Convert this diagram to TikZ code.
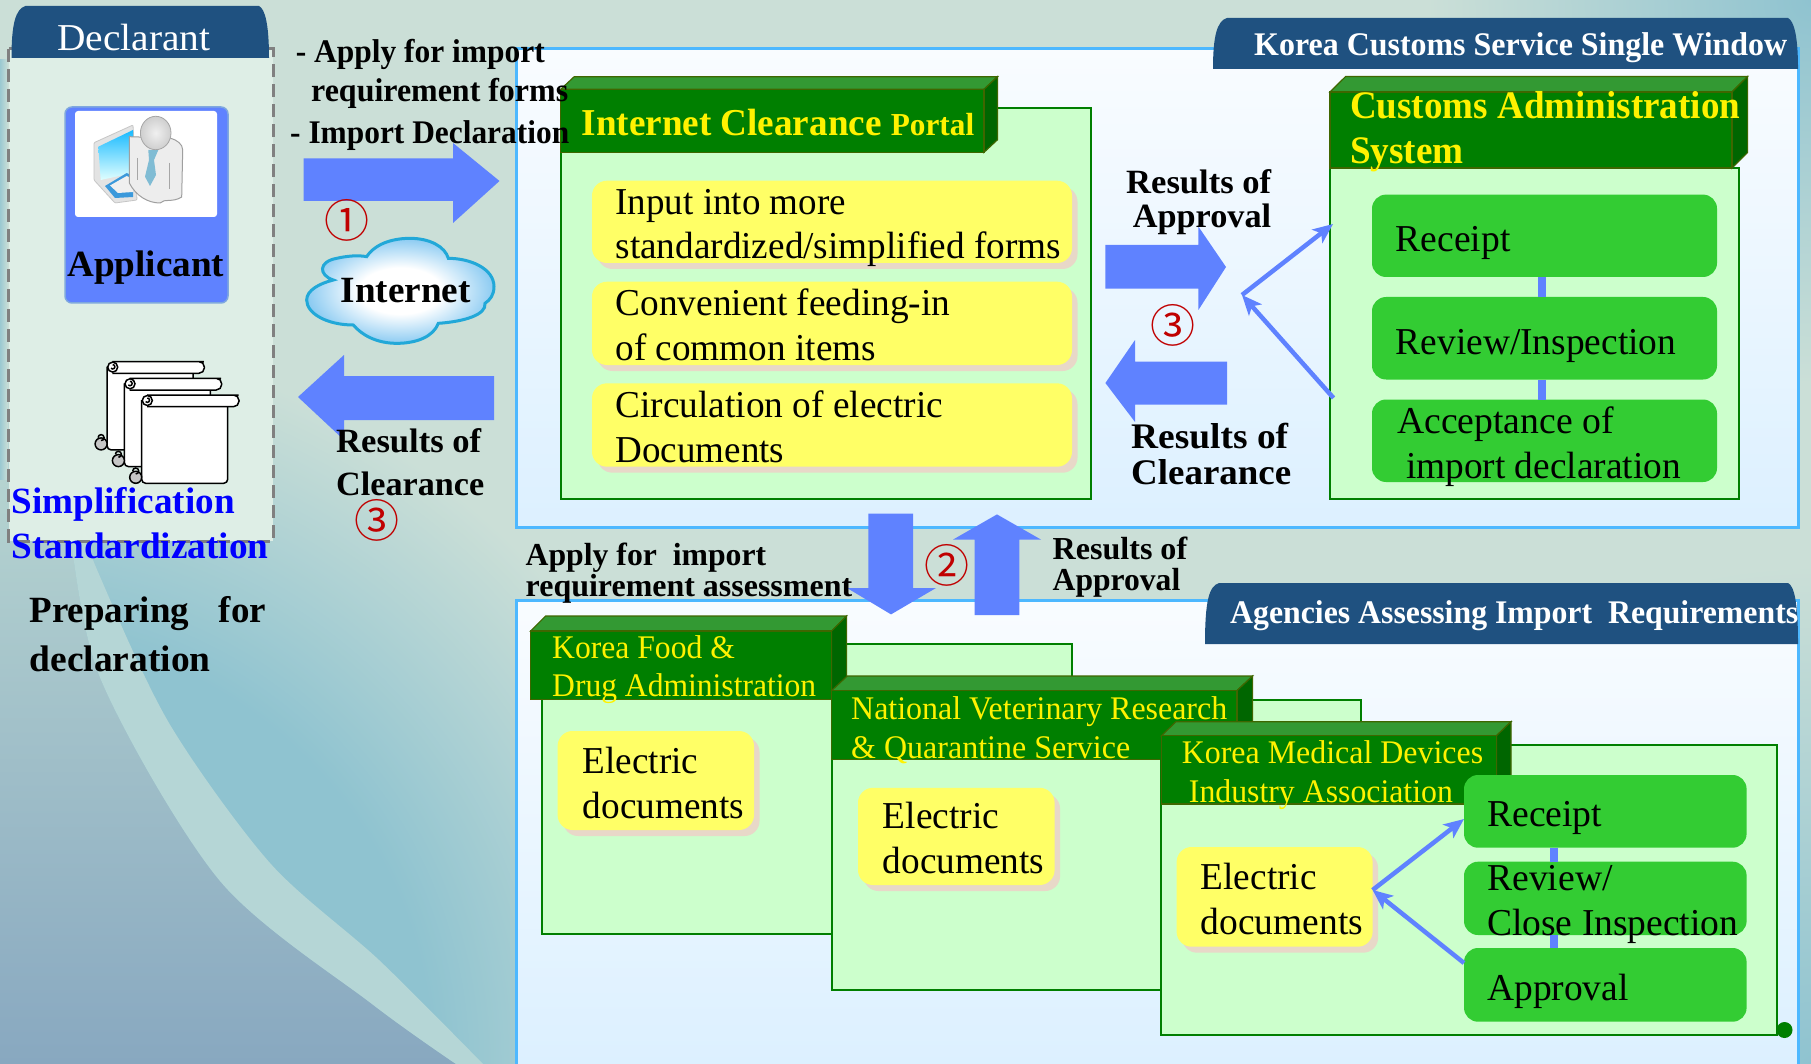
\documentclass[tikz,border=0pt]{standalone}
\usepackage{fontspec}
\usepackage{graphicx}
\setmainfont{Liberation Serif}
\newfontfamily\cnum{Noto Sans CJK SC}
\usetikzlibrary{arrows.meta,shadows}
\definecolor{bgbase}{HTML}{CBDFD7}
\definecolor{bgteal}{HTML}{8FC3D0}
\definecolor{bgband}{HTML}{B5D6D6}
\definecolor{bglow}{HTML}{88A8C0}
\definecolor{bglow2}{HTML}{B5D3D0}
\definecolor{tabblue}{HTML}{1F5180}
\definecolor{arrowblue}{HTML}{5F82FF}
\definecolor{panelline}{HTML}{4DB8FF}
\definecolor{paneltop}{HTML}{F9FCFF}
\definecolor{panelbot}{HTML}{DCF0FF}
\definecolor{dgreen}{HTML}{007F00}
\definecolor{tgreen}{HTML}{339933}
\definecolor{sgreen}{HTML}{006600}
\definecolor{oline}{HTML}{3F6600}
\definecolor{lgreen}{HTML}{CCFFCC}
\definecolor{mgreen}{HTML}{33CC33}
\definecolor{yell}{HTML}{FFFF66}
\definecolor{shad}{HTML}{E8D8C8}
\definecolor{nred}{HTML}{C00000}
\definecolor{cloudin}{HTML}{8CCBF2}
\definecolor{cloudline}{HTML}{22A8D8}
\definecolor{dashfill}{HTML}{DEEEE6}
\pgfdeclareradialshading{cloudsh}{\pgfpoint{0bp}{0bp}}{color(0bp)=(white);color(11bp)=(white);color(25bp)=(cloudin);color(50bp)=(cloudin)}
\pgfdeclareradialshading{tealsh}{\pgfpoint{0bp}{0bp}}{color(0bp)=(bgteal);color(13bp)=(bgteal);color(22bp)=(bgbase);color(50bp)=(bgbase)}
\pgfdeclareradialshading{cornersh}{\pgfpoint{0bp}{0bp}}{color(0bp)=(bgteal);color(24bp)=(bgbase);color(50bp)=(bgbase)}
\newcommand\fs[1]{\fontsize{#1}{#1}\selectfont}
\newcommand\W[2]{\setbox0=\hbox{#2}\pgfmathsetmacro\rr{#1/\wd0}\scalebox{\rr}[1]{\box0}}
\newcommand\twol[5]{\vtop{\baselineskip=#1pt\lineskiplimit=-1000pt\hbox{\W{#2}{#3}}\hbox{\W{#4}{#5}}}}
\newcommand\hdr[7]{% x0 ytop x1 yf yb dx name
  \fill[tgreen,draw=oline,line width=1.2pt] (#1,#4) -- (#1+#6,#2) -- (#3+#6,#2) -- (#3,#4) -- cycle;
  \fill[sgreen,draw=oline,line width=1.2pt] (#3,#4) -- (#3+#6,#2) -- (#3+#6,#5-#4+#2) -- (#3,#5) -- cycle;
  \node[hdrbox,minimum width=#3pt-#1pt,minimum height=#5pt-#4pt] (#7) at (#1,#4) {};
}
\newcommand\tabshape[5]{% x0 yt x1 yb name
  \fill[tabblue] (#1,#4) .. controls (#1,#2+18) and (#1+4,#2+3) .. (#1+14,#2) -- (#3-10,#2) .. controls (#3-4,#2+3) and (#3,#2+18) .. (#3,#4) -- cycle;
  \coordinate (#5) at (#1,#2);
}
\newcommand\scrollat[2]{%
  \begin{scope}[shift={(#1,#2)}]
    \draw[scr,fill=white,rounded corners=4pt] (141.7,400) -- (141.7,483.3) -- (227.7,483.3) -- (227.7,400);
    \draw[scr,fill=white,rounded corners=5.5pt] (147,395) -- (233,395) -- (239,395) -- (239,406.7) -- (147,406.7);
    \draw[scr,fill=white] (147.3,400.5) circle (5);
    \draw[scr] (147.3,398) arc (-90:140:2.2);
    \draw[scr,fill=gray!45] (135.7,477.3) circle (6);
    \draw[scr] (135.7,474) arc (90:-180:3);
  \end{scope}%
}
\tikzset{
  x=1pt,y=-1pt,
  hdrbox/.style={fill=dgreen,draw=oline,line width=1.2pt,inner sep=0pt,outer sep=0pt,anchor=north west},
  greenpanel/.style={fill=lgreen,draw=dgreen,line width=2pt,inner sep=0pt,outer sep=0pt,anchor=north west},
  yellowbox/.style={fill=yell,rounded corners=15pt,inner sep=0pt,outer sep=0pt,anchor=north west,drop shadow={shadow xshift=5.5pt,shadow yshift=-6pt,fill=shad,opacity=1}},
  greenbox/.style={fill=mgreen,rounded corners=14pt,inner sep=0pt,outer sep=0pt,anchor=north west},
  bigarrow/.style={fill=arrowblue,draw=none},
  thinarrow/.style={draw=arrowblue,line width=4.5pt,-{Stealth[length=20pt,width=17pt,inset=5pt]}},
  tie/.style={draw=arrowblue,line width=8pt},
  scr/.style={draw=black,line width=1.5pt},
  txt/.style={inner sep=0pt,anchor=base west},
  circnum/.style={inner sep=0pt,text=nred,font=\cnum\fs{45}},
}
\begin{document}
\begin{tikzpicture}
\useasboundingbox (0,0) rectangle (1811,1064);
\begin{scope}
\clip (0,0) rectangle (1811,1064);
% background
\fill[bgbase] (0,0) rectangle (1811,1064);
\path[shading=tealsh] (0,1064) circle (830);
\path[shading=cornersh] (1811,0) circle (400);
\path[shading=cornersh] (1811,1064) circle (520);
\shade[left color=bgteal!80!bgbase,right color=bgbase] (0,60) rectangle (8,500);
\shade[top color=bglow2,bottom color=bglow] (0,480) -- plot[smooth] coordinates {(60,480) (68,522) (101,680) (220,881) (372,1004) (456,1064)} -- (0,1064) -- cycle;
\fill[bgband] plot[smooth] coordinates {(62,490) (68,522) (101,680) (220,881) (372,1004) (456,1064)} -- plot[smooth] coordinates {(483,1064) (379,960) (270,863) (169,723) (98,572) (72,500)} -- cycle;
\end{scope}
% panels
\shade[top color=paneltop,bottom color=panelbot,draw=panelline,line width=3pt] (516.6,49) rectangle (1798,527.5);
\shade[top color=paneltop,bottom color=panelbot] (516.6,600.7) rectangle (1798,1064);
\draw[panelline,line width=3pt] (516.6,1064) -- (516.6,600.7) -- (1798,600.7) -- (1798,1064);
\tabshape{1213}{18}{1798}{69}{tabA}
\tabshape{1205}{583}{1798}{644}{tabB}
% declarant panel
\draw[fill=dashfill,draw=gray,line width=3pt,dash pattern=on 13pt off 7pt] (8.5,49) rectangle (273,541);
\tabshape{11.5}{6}{269}{58}{tabD}
% applicant
\node[fill=arrowblue,draw=cyan!30!arrowblue!70!white,line width=1.5pt,rounded corners=7pt,inner sep=0pt,outer sep=0pt,anchor=north west,minimum width=163pt,minimum height=196pt] (applicantbox) at (65,107) {};
\node[fill=white,rounded corners=3pt,inner sep=0pt,outer sep=0pt,anchor=north west,minimum width=142pt,minimum height=106pt] (iconbox) at (75,111) {};
\fill[gray!22,draw=gray!45,line width=.8pt,rounded corners=1pt] (94,142.7) -- (133,125) -- (137,200) -- (115,203) -- (94,180) -- cycle;
\shade[top color=cyan!70!blue!90,bottom color=cyan!12!white] (98.3,146.7) -- (133,130) -- (133,173) -- (100.7,180) -- cycle;
\fill[cyan!70!blue!80] (105,186) -- (126.7,173) -- (133,176) -- (133,197) -- (115,198) -- cycle;
\fill[gray!12] (110,185.5) -- (126.7,176) -- (133,179) -- (133,192) -- (118,193) -- cycle;
\draw[gray!75,line width=1pt,fill=gray!14] (129.3,136.7) -- (170,138) .. controls (177,140) and (182.7,144) .. (182.7,150) -- (181.7,197) .. controls (172,203) and (165,198) .. (160,203) .. controls (148,203) and (136,196) .. (129.3,183) -- cycle;
\fill[cyan!55!gray!75!white] (148.3,150) -- (158.3,150) -- (154,160) -- (156,175) -- (150,186) -- (145,176.7) -- (149,160) -- cycle;
\draw[gray!70,line width=1pt] (137.7,158) -- (137.7,180) (169,163) -- (169,189);
\shade[inner color=gray!12,outer color=gray!38,draw=gray!70,line width=.8pt] (155.7,133) ellipse (15.3 and 16.7);
% scrolls
\scrollat{-34.6}{-33.4}
\scrollat{-17.3}{-16.7}
\scrollat{0}{0}
% big arrows
\fill[bigarrow] (303.5,158.5) -- (453,158.5) -- (453,143) -- (499.5,181) -- (453,223) -- (453,201) -- (303.5,201) -- cycle;
\fill[bigarrow] (494,376) -- (344,376) -- (344,355) -- (298,397) -- (344,440) -- (344,420) -- (494,420) -- cycle;
% cloud
\begin{scope}[shift={(290,220)},x=.33333pt,y=-.33333pt]
\path[shading=cloudsh,draw=cloudline,line width=3pt] (130,180) .. controls (85,165) and (85,125) .. (140,115) .. controls (170,108) and (205,105) .. (230,110) .. controls (260,65) and (320,55) .. (360,55) .. controls (420,55) and (465,80) .. (475,115) .. controls (540,115) and (612,145) .. (612,200) .. controls (612,225) and (600,240) .. (585,250) .. controls (590,285) and (520,305) .. (445,310) .. controls (430,350) and (380,370) .. (320,370) .. controls (260,370) and (215,345) .. (190,315) .. controls (110,315) and (50,280) .. (50,240) .. controls (50,210) and (90,190) .. (130,180) -- cycle;
\end{scope}
% portal
\node[greenpanel,minimum width=530.3pt,minimum height=391.6pt] (portal) at (560.7,107.7) {};
\hdr{560.7}{76.7}{984}{89.3}{152.3}{13.5}{portalhdr}
\node[yellowbox,minimum width=480pt,minimum height=82.3pt] (p1) at (592,180.7) {};
\node[yellowbox,minimum width=480pt,minimum height=83.3pt] (p2) at (592,281.7) {};
\node[yellowbox,minimum width=480pt,minimum height=83.4pt] (p3) at (592,383.3) {};
% customs
\node[greenpanel,minimum width=408.5pt,minimum height=331pt] (custom) at (1330,168) {};
\hdr{1330}{76.5}{1732}{92}{168}{15.6}{customhdr}
\node[greenbox,minimum width=345pt,minimum height=82.4pt] (c1) at (1372,194.6) {};
\node[greenbox,minimum width=345pt,minimum height=82.5pt] (c2) at (1372,297) {};
\node[greenbox,minimum width=345pt,minimum height=82.5pt] (c3) at (1372,399.5) {};
\draw[tie] ([xshift=-3pt]c1.south) -- ([xshift=-3pt]c2.north);
\draw[tie] ([xshift=-3pt]c2.south) -- ([xshift=-3pt]c3.north);
% agencies
\node[greenpanel,minimum width=530.4pt,minimum height=290pt] (ag1) at (542,644) {};
\hdr{530.6}{616}{831.6}{631}{699.6}{15}{ag1hdr}
\node[yellowbox,minimum width=196.4pt,minimum height=99pt] (e1) at (557.6,731) {};
\node[greenpanel,minimum width=529.4pt,minimum height=290pt] (ag2) at (831.6,700) {};
\hdr{831.6}{676}{1237}{690.6}{759.7}{15.6}{ag2hdr}
\node[yellowbox,minimum width=196.6pt,minimum height=97.2pt] (e2) at (858,787.8) {};
\node[greenpanel,minimum width=615.6pt,minimum height=290pt] (ag3) at (1161.4,745) {};
\hdr{1161.4}{721.7}{1496.5}{735.7}{804}{14.5}{ag3hdr}
\node[yellowbox,minimum width=196pt,minimum height=99.7pt] (e3) at (1176.6,847) {};
\node[greenbox,minimum width=282.6pt,minimum height=72.7pt] (g1) at (1464,775) {};
\node[greenbox,minimum width=282.6pt,minimum height=73.3pt] (g2) at (1464,861.7) {};
\node[greenbox,minimum width=282.6pt,minimum height=73.7pt] (g3) at (1464,948) {};
\draw[tie] ([xshift=-51pt]g1.south) -- ([xshift=-51pt]g2.north);
\draw[tie] ([xshift=-51pt]g2.south) -- ([xshift=-51pt]g3.north);
\node[circle,fill=dgreen,inner sep=0pt,minimum size=16pt] (dot) at (1784.5,1030) {};
% mid arrows
\fill[bigarrow] (1105.4,245) -- (1198.4,245) -- (1198.4,226.6) -- (1226,267) -- (1198.4,310) -- (1198.4,288.6) -- (1105.4,288.6) -- cycle;
\fill[bigarrow] (1227,361.6) -- (1135,361.6) -- (1135,340) -- (1105.4,383) -- (1135,422) -- (1135,404.6) -- (1227,404.6) -- cycle;
\fill[bigarrow] (868.4,513.7) -- (913,513.7) -- (913,588) -- (936,588) -- (891,614.4) -- (847,588) -- (868.4,588) -- cycle;
\fill[bigarrow] (974.5,615) -- (1019.4,615) -- (1019.4,539.6) -- (1041,539.6) -- (997,514.4) -- (953,539.6) -- (974.5,539.6) -- cycle;
% thin arrows
\coordinate (jA) at (1242,295);
\coordinate (inA) at (1333,224);
\coordinate (outA) at (1333.5,398);
\coordinate (jB) at (1372.6,890);
\coordinate (inB) at (1464,819);
\coordinate (outB) at (1464,963);
\draw[thinarrow] (jA) -- (inA);
\draw[thinarrow] (outA) -- (jA);
\draw[thinarrow] (jB) -- (inB);
\draw[thinarrow] (outB) -- (jB);
% numbers
\node[circnum] (n1) at (347,220) {①};
\node[circnum] (n3a) at (377,520) {③};
\node[circnum] (n3b) at (1172.6,325) {③};
\node[circnum] (n2) at (947.4,565.5) {②};
% texts
\node[txt,text=white,font=\fs{38}] (tD) at (57,51) {\W{153}{Declarant}};
\node[txt,font=\bfseries\fs{37}] (tApp) at (67,277) {\W{157}{Applicant}};
\node[txt,text=blue,font=\bfseries\fs{37}] (tSS) at (11.5,513) {\twol{45}{223}{Simplification}{257}{Standardization}};
\node[txt,font=\bfseries\fs{37}] (tPrep) at (29.4,622) {\vtop{\baselineskip=49pt\lineskiplimit=-1000pt\hbox to 236.6pt{Preparing\hfill for}\hbox{\W{181}{declaration}}}};
\node[txt,font=\bfseries\fs{33}] (tA1) at (295.6,62.5) {\W{249}{- Apply for import}};
\node[txt,font=\bfseries\fs{33}] (tA2) at (311,101.5) {\W{257}{requirement forms}};
\node[txt,font=\bfseries\fs{33}] (tA3) at (290,144) {\W{279}{- Import Declaration}};
\node[txt,font=\bfseries\fs{34}] (tRC1) at (336,452.5) {\twol{42.5}{145}{Results of}{148}{Clearance}};
\node[txt,font=\bfseries\fs{37}] (tNet) at (340.6,302.7) {\W{130}{Internet}};
\node[txt,text=yellow,font=\bfseries\fs{38}] (tPortal) at (581.4,136) {\W{392.6}{Internet Clearance {\fs{32}Portal}}};
\node[txt,font=\fs{38}] (tp1) at (615.4,215) {\twol{44}{230.3}{Input into more}{445.3}{standardized/simplified forms}};
\node[txt,font=\fs{38}] (tp2) at (615.4,316) {\twol{44.5}{334.6}{Convenient feeding-in}{260.3}{of common items}};
\node[txt,font=\fs{38}] (tp3) at (615.4,417.5) {\twol{45}{327.6}{Circulation of electric}{168.6}{Documents}};
\node[txt,text=white,font=\bfseries\fs{33}] (tKorea) at (1254,55.5) {\W{533}{Korea Customs Service Single Window}};
\node[txt,text=white,font=\bfseries\fs{33}] (tAgen) at (1230,623.7) {\W{568}{Agencies Assessing Import\ \ Requirements}};
\node[txt,text=yellow,font=\bfseries\fs{39}] (tCust) at (1350,118.5) {\twol{45}{390}{Customs Administration}{113.6}{System}};
\node[txt,font=\fs{38}] (tc1) at (1395.7,251.6) {\W{114.7}{Receipt}};
\node[txt,font=\fs{38}] (tc2) at (1395.7,354) {\W{280.3}{Review/Inspection}};
\node[txt,font=\fs{38}] (tc3) at (1397,433) {\twol{45}{216.4}{Acceptance of}{283.5}{\kern9pt import declaration}};
\node[txt,font=\bfseries\fs{34}] (tRA) at (1126,194) {\twol{33.8}{145}{Results of}{145}{\kern6.6pt Approval}};
\node[txt,font=\bfseries\fs{36}] (tRC2) at (1131,448) {\twol{36}{157}{Results of}{160}{Clearance}};
\node[txt,font=\bfseries\fs{32}] (tAp) at (525.5,565) {\twol{31}{240.5}{Apply for\ \ import}{326.5}{requirement assessment}};
\node[txt,font=\bfseries\fs{32}] (tRA2) at (1052.5,559) {\twol{31}{134.5}{Results of}{127.6}{Approval}};
\node[txt,text=yellow,font=\fs{33}] (ta1) at (552,658.5) {\twol{38}{182.7}{Korea Food \&}{264}{Drug Administration}};
\node[txt,text=yellow,font=\fs{33}] (ta2) at (851,719.6) {\twol{38.4}{376}{National Veterinary Research}{279}{\& Quarantine Service}};
\node[txt,text=yellow,font=\fs{33}] (ta3) at (1181.6,763) {\twol{39.7}{301.4}{Korea Medical Devices}{271.1}{\kern7.4pt Industry Association}};
\node[txt,font=\fs{38}] (te1) at (582.6,773) {\twol{45}{115.4}{Electric}{161.4}{documents}};
\node[txt,font=\fs{38}] (te2) at (882.6,828) {\twol{45}{116.4}{Electric}{161.4}{documents}};
\node[txt,font=\fs{38}] (te3) at (1200.6,889) {\twol{45}{115.9}{Electric}{162.4}{documents}};
\node[txt,font=\fs{38}] (tg1) at (1487,826) {\W{115}{Receipt}};
\node[txt,font=\fs{38}] (tg2) at (1487,890) {\twol{45}{125.5}{Review/}{251}{Close Inspection}};
\node[txt,font=\fs{38}] (tg3) at (1487,1000) {\W{141.5}{Approval}};
\end{tikzpicture}
\end{document}
